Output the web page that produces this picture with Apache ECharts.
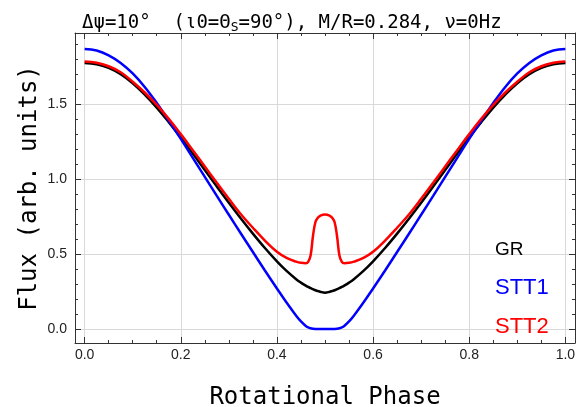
<!DOCTYPE html>
<html>
<head>
<meta charset="utf-8">
<script src="https://cdn.jsdelivr.net/npm/echarts@6/dist/echarts.min.js"></script>
<style>
html, body { margin: 0; padding: 0; background: #fff; }
#chart { width: 578px; height: 407px; }
</style>
</head>
<body>
<div id="chart"></div>
<script>
// rotational phase samples (denser round the dip)
var phase = [
	0, 0.025, 0.05, 0.075, 0.1, 0.125, 0.15, 0.175, 0.2, 0.225, 0.25, 0.275, 0.3, 0.325, 0.35, 0.375, 0.4,
	0.42, 0.44, 0.45, 0.46, 0.465, 0.47, 0.475, 0.48, 0.485, 0.49,
	0.5,
	0.51, 0.515, 0.52, 0.525, 0.53, 0.535, 0.54, 0.55, 0.56, 0.58,
	0.6, 0.625, 0.65, 0.675, 0.7, 0.725, 0.75, 0.775, 0.8, 0.825, 0.85, 0.875, 0.9, 0.925, 0.95, 0.975, 1.0
];

var fluxGR = [
	1.775, 1.767, 1.742, 1.700, 1.640, 1.564, 1.477, 1.380, 1.277, 1.170, 1.060, 0.950, 0.842, 0.737, 0.636, 0.540, 0.451,
	0.387, 0.332, 0.309, 0.289, 0.280, 0.272, 0.265, 0.258, 0.253, 0.248,
	0.242,
	0.248, 0.253, 0.258, 0.265, 0.272, 0.280, 0.289, 0.309, 0.332, 0.387,
	0.451, 0.540, 0.636, 0.737, 0.842, 0.950, 1.060, 1.170, 1.277, 1.380, 1.477, 1.564, 1.640, 1.700, 1.742, 1.767, 1.775
];

var fluxSTT1 = [
	1.868, 1.858, 1.826, 1.775, 1.705, 1.615, 1.508, 1.390, 1.268, 1.142, 1.015, 0.888, 0.762, 0.637, 0.513, 0.390, 0.270,
	0.176, 0.088, 0.050, 0.020, 0.010, 0.004, 0.001, 0, 0, 0,
	0,
	0, 0, 0, 0.001, 0.004, 0.010, 0.020, 0.050, 0.088, 0.176,
	0.270, 0.390, 0.513, 0.637, 0.762, 0.888, 1.015, 1.142, 1.268, 1.390, 1.508, 1.615, 1.705, 1.775, 1.826, 1.858, 1.868
];

var fluxSTT2 = [
	1.785, 1.777, 1.753, 1.713, 1.650, 1.578, 1.495, 1.402, 1.300, 1.193, 1.084, 0.975, 0.868, 0.765, 0.675, 0.590, 0.515,
	0.474, 0.449, 0.441, 0.438, 0.447, 0.490, 0.620, 0.712, 0.742, 0.755,
	0.764,
	0.755, 0.742, 0.712, 0.620, 0.490, 0.447, 0.438, 0.441, 0.449, 0.474,
	0.515, 0.590, 0.675, 0.765, 0.868, 0.975, 1.084, 1.193, 1.300, 1.402, 1.495, 1.578, 1.650, 1.713, 1.753, 1.777, 1.785
];

var xMajorTicks = [0, 0.2, 0.4, 0.6, 0.8, 1.0];
var xMinorTicks = [0.05, 0.1, 0.15, 0.25, 0.3, 0.35, 0.45, 0.5, 0.55, 0.65, 0.7, 0.75, 0.85, 0.9, 0.95];
var yMajorTicks = [0, 0.5, 1.0, 1.5];
var yMinorTicks = [0.1, 0.2, 0.3, 0.4, 0.6, 0.7, 0.8, 0.9, 1.1, 1.2, 1.3, 1.4, 1.6, 1.7, 1.8, 1.9];

var seriesNames = ['GR', 'STT1', 'STT2'];
var seriesColors = ['#000000', '#0000ff', '#ff0000'];
var seriesFlux = [fluxGR, fluxSTT1, fluxSTT2];

var X_MIN = -0.02, X_MAX = 1.02;
var Y_MIN = -0.094, Y_MAX = 1.975;

var frameColor = '#333333';
var gridColor = '#d9d9d9';

function pairs(xs, ys){
	var out = [];
	for(var i = 0; i < xs.length; i++){
		out.push([xs[i], ys[i]]);
	}
	return out;
}

// one axis of the frame: major or minor ticks pointing inward
function frameAxis(position, gridIndex, ticks, isMajor, min, max){
	return {
		type: 'value',
		gridIndex: gridIndex,
		position: position,
		min: min,
		max: max,
		axisLine: { show: isMajor, onZero: false, lineStyle: { color: frameColor, width: 1 } },
		axisTick: {
			show: true,
			inside: true,
			length: isMajor ? 6 : 3,
			customValues: ticks,
			lineStyle: { color: frameColor, width: 1 }
		},
		axisLabel: { show: false },
		splitLine: { show: false },
		minorTick: { show: false }
	};
}

var xBottom = frameAxis('bottom', 0, xMajorTicks, true, X_MIN, X_MAX);
xBottom.axisLabel = {
	show: true,
	customValues: xMajorTicks,
	margin: 5,
	fontFamily: 'Liberation Sans',
	fontSize: 14,
	color: '#222',
	formatter: function(v){ return v.toFixed(1); }
};
xBottom.splitLine = { show: true, lineStyle: { color: gridColor, width: 1 } };
xBottom.name = 'Rotational Phase';
xBottom.nameLocation = 'middle';
xBottom.nameGap = 43;
xBottom.nameMoveOverlap = false;
xBottom.nameTextStyle = { fontFamily: 'DejaVu Sans Mono', fontSize: 24, color: '#000' };

var yLeft = frameAxis('left', 0, yMajorTicks, true, Y_MIN, Y_MAX);
yLeft.axisLabel = {
	show: true,
	customValues: yMajorTicks,
	margin: 8,
	fontFamily: 'Liberation Sans',
	fontSize: 14,
	color: '#222',
	formatter: function(v){ return v.toFixed(1); }
};
yLeft.splitLine = { show: true, lineStyle: { color: gridColor, width: 1 } };
yLeft.name = 'Flux (arb. units)';
yLeft.nameLocation = 'middle';
yLeft.nameGap = 33;
yLeft.nameRotate = 90;
yLeft.nameMoveOverlap = false;
yLeft.nameTextStyle = { fontFamily: 'DejaVu Sans Mono', fontSize: 24, color: '#000' };

var option = {
	animation: false,
	backgroundColor: '#ffffff',
	title: {
		text: '{a|\u0394\u03c8=10\u00b0  (\u03b90=\u0398}{s|S}{a|=90\u00b0), M/R=0.284, \u03bd=0Hz}',
		left: 82,
		top: 12,
		padding: 0,
		textStyle: {
			fontWeight: 'normal',
			rich: {
				a: { fontFamily: 'DejaVu Sans Mono', fontSize: 19, fontWeight: 'normal', color: '#000', lineHeight: 22 },
				s: { fontFamily: 'DejaVu Sans Mono', fontSize: 13, fontWeight: 'normal', color: '#000', lineHeight: 22, padding: [9, 0, 0, 0] }
			}
		}
	},
	grid: [
		{ left: 75, right: 3, top: 33, bottom: 64, containLabel: false, outerBoundsMode: 'none' },
		{ left: 75, right: 3, top: 33, bottom: 64, containLabel: false, outerBoundsMode: 'none' }
	],
	xAxis: [
		xBottom,
		frameAxis('top', 0, xMajorTicks, true, X_MIN, X_MAX),
		frameAxis('bottom', 1, xMinorTicks, false, X_MIN, X_MAX),
		frameAxis('top', 1, xMinorTicks, false, X_MIN, X_MAX)
	],
	yAxis: [
		yLeft,
		frameAxis('right', 0, yMajorTicks, true, Y_MIN, Y_MAX),
		frameAxis('left', 1, yMinorTicks, false, Y_MIN, Y_MAX),
		frameAxis('right', 1, yMinorTicks, false, Y_MIN, Y_MAX)
	],
	legend: [],
	series: []
};

var legendTops = [240, 277, 316];
var legendSizes = [19, 22, 22];
for(var i = 0; i < seriesNames.length; i++){
	option.series.push({
		name: seriesNames[i],
		type: 'line',
		xAxisIndex: 0,
		yAxisIndex: 0,
		data: pairs(phase, seriesFlux[i]),
		showSymbol: false,
		smooth: 0.4,
		lineStyle: { color: seriesColors[i], width: 2.5 },
		itemStyle: { color: seriesColors[i] },
		z: 2 + i
	});
	option.legend.push({
		data: [seriesNames[i]],
		left: 490,
		top: legendTops[i],
		padding: 0,
		itemWidth: 0,
		itemHeight: 0,
		icon: 'rect',
		selectedMode: false,
		textStyle: { color: seriesColors[i], fontFamily: 'Liberation Sans', fontSize: legendSizes[i] }
	});
}

var chart = echarts.init(document.getElementById('chart'), null, { renderer: 'canvas' });
chart.setOption(option);
</script>
</body>
</html>
